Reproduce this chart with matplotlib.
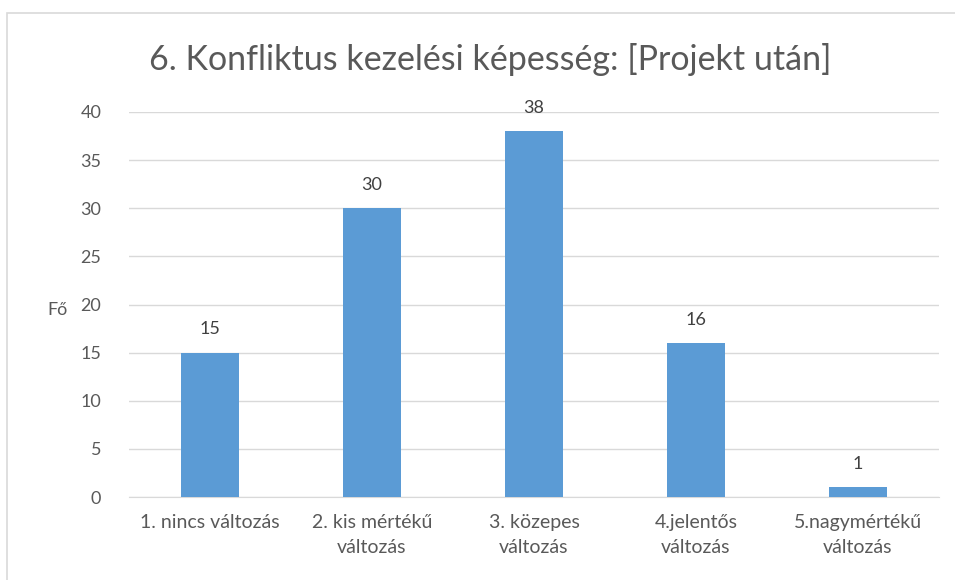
import numpy as np
import matplotlib.pyplot as plt
from matplotlib.patches import Rectangle

categories = ["1. nincs változás", "2. kis mértékű\nváltozás", "3. közepes\nváltozás",
              "4.jelentős\nváltozás", "5.nagymértékű\nváltozás"]
values = [15, 30, 38, 16, 1]
yticks = [0, 5, 10, 15, 20, 25, 30, 35, 40]

plt.rcParams['font.family'] = ['Lato', 'DejaVu Sans']
txt = "#595959"

fig = plt.figure(figsize=(9.55, 5.8), dpi=100)
fig.patches.append(Rectangle((7/955, -0.1), 1.2, 1 - 13/580 + 0.1, transform=fig.transFigure,
                             fill=False, edgecolor="#d9d9d9", linewidth=1.2))
ax = fig.add_axes([129/955, 1 - 497/580, 810/955, (497 - 112)/580])

x = np.arange(len(values))
bars = ax.bar(x, values, width=0.36, color="#5b9bd5", zorder=3)
for xi, v in zip(x, values):
    ax.text(xi, v + 1.6, str(v), ha="center", va="bottom", fontsize=13, color="#404040")

ax.set_xlim(-0.5, len(values) - 0.5)
ax.set_ylim(0, 40)
ax.set_yticks(yticks)
ax.set_xticks(x)
ax.set_xticklabels(categories, fontsize=14, color=txt, linespacing=1.6)
ax.tick_params(axis="y", labelsize=13, labelcolor=txt, length=0, pad=20)
ax.tick_params(axis="x", length=0, pad=12)
ax.grid(axis="y", color="#d9d9d9", linewidth=1, zorder=0)
for s in ["top", "right", "left"]:
    ax.spines[s].set_visible(False)
ax.spines["bottom"].set_color("#d9d9d9")

fig.text(57/955, 1 - 310/580, "Fő", ha="center", va="center", fontsize=13, color=txt)
fig.text(490/955, 1 - 60/580, "6. Konfliktus kezelési képesség: [Projekt után]",
         ha="center", va="center", fontsize=24.5, color=txt)

fig.savefig("out.png", dpi=100)
